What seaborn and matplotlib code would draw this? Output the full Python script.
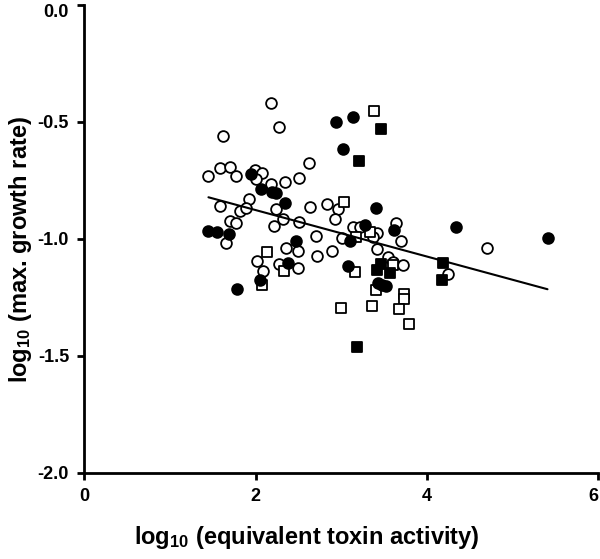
import matplotlib
matplotlib.use("Agg")
import matplotlib.pyplot as plt
import matplotlib.transforms as mtransforms
import seaborn as sns
import pandas as pd

# ---- data ----
open_circle_x = [1.624, 1.585, 1.702, 1.449, 1.772, 1.994, 2.072, 2.006, 1.928, 1.585,
                 1.819, 1.889, 1.702, 1.769, 1.652, 2.014, 2.178, 2.278, 2.629, 2.508,
                 2.341, 2.178, 2.240, 2.637, 2.839, 2.967, 2.325, 2.508, 2.929, 2.216,
                 3.143, 3.221, 3.641, 3.419, 3.370, 3.007, 2.703, 2.353, 2.496, 2.890,
                 2.718, 2.091, 2.272, 2.491, 3.700, 3.416, 3.551, 3.603, 3.727, 4.701,
                 4.252]
open_circle_y = [-0.560, -0.699, -0.695, -0.731, -0.731, -0.706, -0.718, -0.744, -0.830, -0.860,
                 -0.882, -0.870, -0.924, -0.932, -1.017, -1.095, -0.419, -0.521, -0.678, -0.742,
                 -0.759, -0.766, -0.873, -0.863, -0.852, -0.874, -0.916, -0.930, -0.917, -0.946,
                 -0.952, -0.948, -0.931, -0.977, -0.993, -0.999, -0.988, -1.038, -1.053, -1.053,
                 -1.073, -1.139, -1.107, -1.124, -1.010, -1.046, -1.080, -1.098, -1.112, -1.041,
                 -1.152]

filled_circle_x = [1.947, 2.068, 2.196, 2.236, 2.341, 1.449, 1.554, 1.694, 2.053, 1.784,
                   2.940, 3.136, 3.019, 3.404, 3.283, 3.620, 2.470, 2.374, 3.098, 3.078,
                   3.428, 3.474, 3.528, 4.342, 5.414]
filled_circle_y = [-0.725, -0.786, -0.799, -0.803, -0.846, -0.967, -0.970, -0.981, -1.176, -1.215,
                   -0.500, -0.479, -0.617, -0.870, -0.943, -0.963, -1.010, -1.105, -1.010, -1.115,
                   -1.191, -1.198, -1.202, -0.949, -0.996]

open_square_x = [3.388, 3.034, 2.131, 2.329, 2.072, 3.338, 3.174, 3.157, 3.603, 3.404,
                 3.738, 3.738, 3.364, 2.999, 3.673, 3.793]
open_square_y = [-0.454, -0.843, -1.057, -1.138, -1.198, -0.971, -0.993, -1.141, -1.112, -1.221,
                 -1.236, -1.256, -1.288, -1.295, -1.302, -1.363]

filled_square_x = [3.466, 3.206, 3.419, 3.466, 3.565, 3.182, 4.194, 4.182]
filled_square_y = [-0.530, -0.667, -1.134, -1.108, -1.147, -1.462, -1.105, -1.176]

fit_x = [1.45, 5.41]
fit_y = [-0.823, -1.216]

x_ticks = [0, 2, 4, 6]
y_ticks = [0.0, -0.5, -1.0, -1.5, -2.0]
x_label = r"log$_{10}$ (equivalent toxin activity)"
y_label = r"log$_{10}$ (max. growth rate)"

# ---- style ----
sns.set_theme(style="ticks")
plt.rcParams["font.family"] = ["Liberation Sans", "DejaVu Sans"]
plt.rcParams["font.weight"] = "bold"
plt.rcParams["axes.unicode_minus"] = False
plt.rcParams["mathtext.default"] = "regular"

fig = plt.figure(figsize=(6.0, 5.59), dpi=100)
ax = fig.add_axes([0.1405, 0.1544, 0.8562, 0.8372])

ms = 60
lw = 1.3
sns.scatterplot(x=open_circle_x, y=open_circle_y, marker="o", s=ms, color="white",
                edgecolor="black", linewidth=lw, ax=ax, zorder=3)
sns.scatterplot(x=open_square_x, y=open_square_y, marker="s", s=ms, color="white",
                edgecolor="black", linewidth=lw, ax=ax, zorder=3)
sns.scatterplot(x=filled_circle_x, y=filled_circle_y, marker="o", s=ms, color="black",
                edgecolor="black", linewidth=lw, ax=ax, zorder=4)
sns.scatterplot(x=filled_square_x, y=filled_square_y, marker="s", s=ms, color="black",
                edgecolor="black", linewidth=lw, ax=ax, zorder=4)
sns.lineplot(x=fit_x, y=fit_y, color="black", linewidth=1.5, ax=ax, zorder=5)

ax.set_xlim(0, 6)
ax.set_ylim(-2.0, 0.0)
ax.set_xticks(x_ticks)
ax.set_yticks(y_ticks)
ax.set_xticklabels([str(t) for t in x_ticks])
ax.set_yticklabels([f"{t:.1f}" for t in y_ticks])

for s in ["top", "right"]:
    ax.spines[s].set_visible(False)
for s in ["left", "bottom"]:
    ax.spines[s].set_linewidth(2.0)
    ax.spines[s].set_color("black")

ax.tick_params(axis="both", which="major", length=5, width=2.0, color="black",
               labelsize=13, labelcolor="black", pad=6)
for lab in ax.get_xticklabels() + ax.get_yticklabels():
    lab.set_fontweight("bold")
ax.get_xticklabels()[-1].set_horizontalalignment("right")
top_lab = ax.get_yticklabels()[0]
top_lab.set_transform(top_lab.get_transform() +
                      mtransforms.ScaledTranslation(0, -4 / 72, fig.dpi_scale_trans))

ax.set_xlabel(x_label, fontsize=17, fontweight="bold", color="black")
ax.set_ylabel(y_label, fontsize=17, fontweight="bold", color="black")
ax.xaxis.set_label_coords(0.433, -0.110)
ax.yaxis.set_label_coords(-0.098, 0.476)

fig.savefig("out.png", dpi=100)
